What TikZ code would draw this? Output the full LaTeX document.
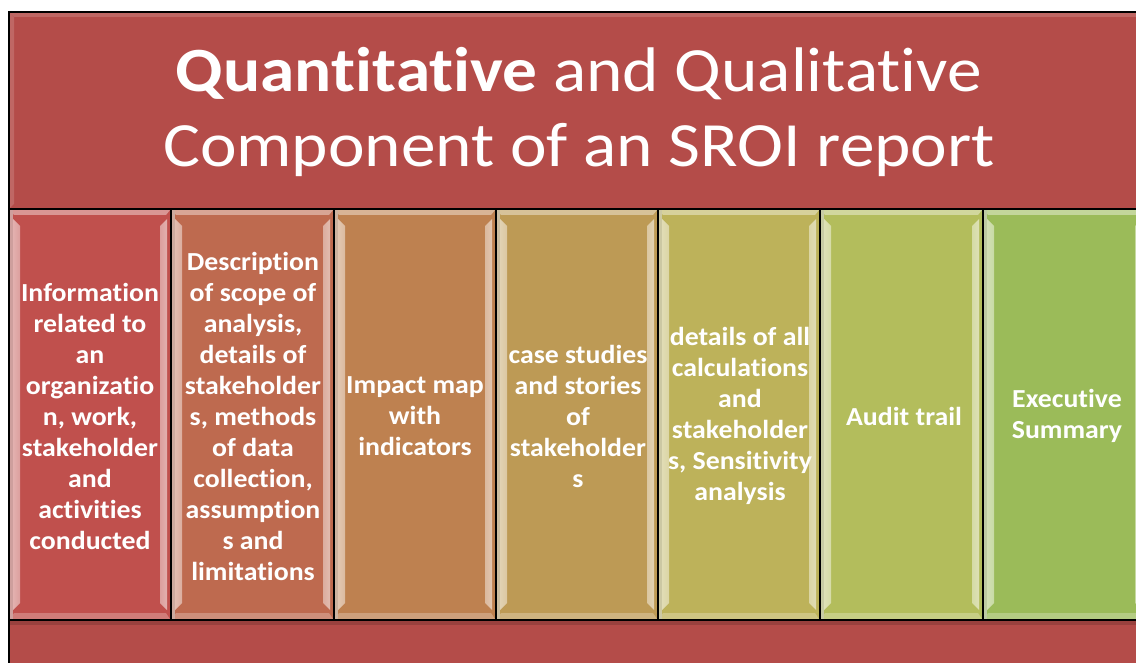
\documentclass[tikz,border=0pt]{standalone}
\usepackage{fontspec}
\setmainfont{Carlito}
\newfontfamily\titlefont[FakeStretch=1.1,Ligatures=NoCommon]{Carlito}
\newfontfamily\colfont[FakeStretch=1.07,Ligatures=NoCommon]{Carlito}
\definecolor{barred}{HTML}{B44C49}
\definecolor{cA}{HTML}{C0504D}
\definecolor{cB}{HTML}{BE6A4F}
\definecolor{cC}{HTML}{BE8150}
\definecolor{cD}{HTML}{BD9A55}
\definecolor{cE}{HTML}{BDB25A}
\definecolor{cF}{HTML}{B3BD5C}
\definecolor{cG}{HTML}{9BBB59}
\definecolor{hiY}{HTML}{FFFFE0}
\tikzset{
  coltext/.style={text=white, font=\colfont\bfseries\fontsize{26}{31}\selectfont, align=center, inner sep=0pt},
  titletext/.style={text=white, font=\titlefont\fontsize{63}{75}\selectfont, align=center, inner sep=0pt},
  frame/.style={draw=black, line width=1.5pt}
}
\newcommand\colbevel[3]{%
  \fill[#3] (#1,209) rectangle (#2,620);
  \fill[#3!60!white] (#1+1,210) -- (#2-1,210) -- (#2-5,215) -- (#1+5,215) -- cycle;
  \fill[#3!75!white] (#1+1,619) -- (#2-1,619) -- (#2-5,613) -- (#1+5,613) -- cycle;
  \fill[#3!70!gray!60!white] (#1+1,210) rectangle (#1+4,619);
  \shade[left color=#3!45!white, middle color=#3!8!hiY, right color=#3!55!white]
    (#1+4,219) -- (#1+11,226) -- (#1+11,603) -- (#1+4,610) -- cycle;
  \shade[left color=#3!55!white, middle color=#3!8!hiY, right color=#3!45!white]
    (#2-4,219) -- (#2-11,226) -- (#2-11,603) -- (#2-4,610) -- cycle;
  \draw[frame] (#1,209) rectangle (#2,620);
}
\begin{document}
\begin{tikzpicture}[x=1pt,y=-1pt]
\useasboundingbox (0,0) rectangle (1136,663);
\clip (0,0) rectangle (1136,663);
\fill[white] (0,0) rectangle (1136,663);
% top bar
\fill[barred] (9,12) rectangle (1150,209);
\fill[barred!85!white] (10,13) -- (1150,13) -- (1150,17) -- (14,17) -- cycle;
\fill[barred!85!white] (10,13) -- (14,17) -- (14,204) -- (10,208) -- cycle;
\draw[frame] (9,12) rectangle (1150,209);
% bottom bar
\fill[barred] (9,620) rectangle (1150,670);
\fill[barred!85!black] (10,621) rectangle (1150,625);
\draw[frame] (9,620) rectangle (1150,670);
% columns
\colbevel{9}{171}{cA}
\colbevel{171}{334}{cB}
\colbevel{334}{496}{cC}
\colbevel{496}{658}{cD}
\colbevel{658}{820}{cE}
\colbevel{820}{983}{cF}
\colbevel{983}{1146}{cG}
% texts
\node[titletext] (title) at (579,112) {\textbf{Quantitative} and Qualitative\\Component of an SROI report};
\node[coltext] (c1) at (90,416) {Information\\related to\\an\\organizatio\\n, work,\\stakeholder\\and\\activities\\conducted};
\node[coltext] (c2) at (253,416) {Description\\of scope of\\analysis,\\details of\\stakeholder\\s, methods\\of data\\collection,\\assumption\\s and\\limitations};
\node[coltext] (c3) at (415,416) {Impact map\\with\\indicators};
\node[coltext] (c4) at (578,416) {case studies\\and stories\\of\\stakeholder\\s};
\node[coltext] (c5) at (740,416) {details of all\\calculations\\and\\stakeholder\\s, Sensitivity\\analysis};
\node[coltext] (c6) at (904,416) {Audit trail};
\node[coltext] (c7) at (1067,416) {Executive\\Summary};
\end{tikzpicture}
\end{document}
